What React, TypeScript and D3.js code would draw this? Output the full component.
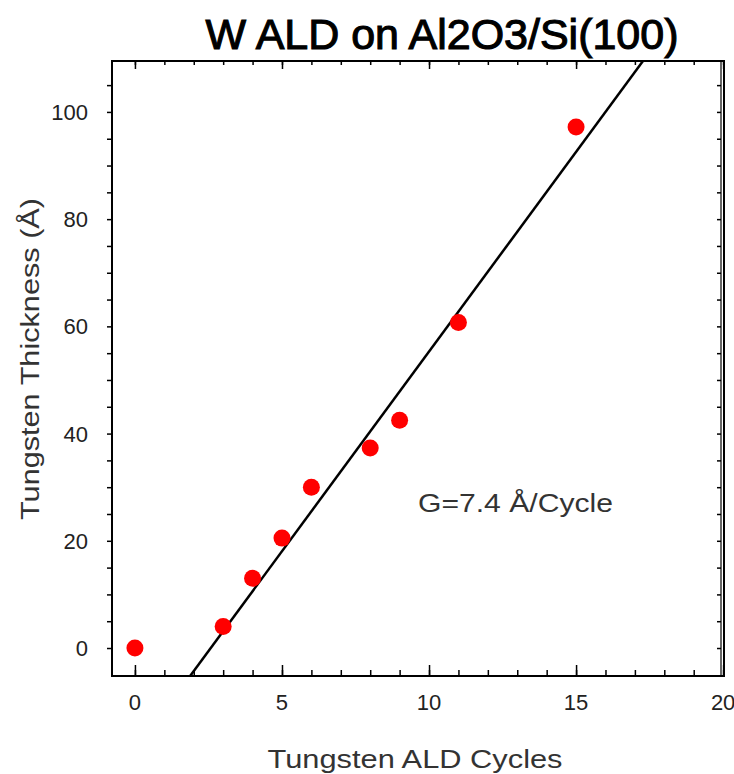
import React, { useEffect, useRef } from "react";
import * as d3 from "d3";

const cycles = [0, 3, 4, 5, 6, 8, 9, 11, 15];
const thickness = [0, 4, 13, 20.5, 30, 37.3, 42.5, 60.7, 97.2];
const xTickLabels = [0, 5, 10, 15, 20];
const yTickLabels = [0, 20, 40, 60, 80, 100];
const fitSlope = 7.45;
const fitIntercept = -19.2;

const W = 734;
const H = 774;

function App() {
  const svgRef = useRef<SVGSVGElement>(null);

  useEffect(() => {
    const svg = d3.select(svgRef.current);
    svg.selectAll("*").remove();

    const left = 112, right = 724, top = 61, bottom = 676;
    const x = d3.scaleLinear().domain([-0.78, 20.03]).range([left, right]);
    const y = d3.scaleLinear().domain([-5.22, 109.5]).range([bottom, top]);
    const font = "'Liberation Sans', Arial, sans-serif";

    // title
    svg.append("text")
      .attr("x", 442).attr("y", 49)
      .attr("text-anchor", "middle")
      .attr("font-family", font).attr("font-size", 42)
      .attr("stroke", "#000").attr("stroke-width", 1.1)
      .attr("textLength", 473).attr("lengthAdjust", "spacingAndGlyphs")
      .text("W ALD on Al2O3/Si(100)");

    // ticks
    const minorX = d3.range(0, 21);
    const minorY = d3.range(0, 110, 5);
    const g = svg.append("g").attr("stroke", "#000");

    const tick = (sel: any) => sel.selectAll("path").remove();
    svg.append("g").attr("transform", `translate(0,${bottom})`)
      .call(d3.axisBottom(x).tickValues(minorX).tickSize(-6).tickFormat(() => "")).call(tick);
    svg.append("g").attr("transform", `translate(0,${bottom})`)
      .call(d3.axisBottom(x).tickValues(xTickLabels).tickSize(-11).tickFormat(() => "")).call(tick);
    svg.append("g").attr("transform", `translate(0,${top})`)
      .call(d3.axisTop(x).tickValues(minorX).tickSize(-4).tickFormat(() => "")).call(tick);
    svg.append("g").attr("transform", `translate(0,${top})`)
      .call(d3.axisTop(x).tickValues(xTickLabels).tickSize(-8).tickFormat(() => "")).call(tick);
    svg.append("g").attr("transform", `translate(${left},0)`)
      .call(d3.axisLeft(y).tickValues(minorY).tickSize(5).tickFormat(() => "")).call(tick);
    svg.append("g").attr("transform", `translate(${right - 3},0)`)
      .call(d3.axisRight(y).tickValues(minorY).tickSize(-4).tickFormat(() => "")).call(tick);
    svg.selectAll(".tick line").attr("stroke", "#000").attr("stroke-width", 1.5);

    // frame
    g.append("rect")
      .attr("x", left).attr("y", top)
      .attr("width", right - left).attr("height", bottom - top)
      .attr("fill", "none").attr("stroke-width", 2);
    g.append("line")
      .attr("x1", right - 3).attr("x2", right - 3)
      .attr("y1", top).attr("y2", bottom).attr("stroke-width", 1.2);

    // tick labels
    svg.append("g").selectAll("text").data(xTickLabels).join("text")
      .attr("x", (d) => x(d)).attr("y", 710)
      .attr("text-anchor", "middle")
      .attr("font-family", font).attr("font-size", 22).attr("fill", "#222")
      .text((d) => d);
    svg.append("g").selectAll("text").data(yTickLabels).join("text")
      .attr("x", 88).attr("y", (d) => y(d)).attr("dy", "0.36em")
      .attr("text-anchor", "end")
      .attr("font-family", font).attr("font-size", 22).attr("fill", "#222")
      .text((d) => d);

    // axis labels
    svg.append("text")
      .attr("x", 415).attr("y", 768)
      .attr("text-anchor", "middle")
      .attr("font-family", font).attr("font-size", 26).attr("fill", "#333")
      .attr("textLength", 295).attr("lengthAdjust", "spacingAndGlyphs")
      .text("Tungsten ALD Cycles");
    svg.append("text")
      .attr("transform", "translate(39,359) rotate(-90)")
      .attr("text-anchor", "middle")
      .attr("font-family", font).attr("font-size", 26).attr("fill", "#333")
      .attr("textLength", 322).attr("lengthAdjust", "spacingAndGlyphs")
      .text("Tungsten Thickness (Å)");

    // fit line, clipped to plot area
    svg.append("clipPath").attr("id", "plotClip")
      .append("rect")
      .attr("x", left).attr("y", top)
      .attr("width", right - left).attr("height", bottom - top);
    const xs = x.domain();
    const line = d3.line<number>().x((d) => x(d)).y((d) => y(fitSlope * d + fitIntercept));
    svg.append("path")
      .datum(xs)
      .attr("d", line)
      .attr("clip-path", "url(#plotClip)")
      .attr("fill", "none").attr("stroke", "#000").attr("stroke-width", 2.5);

    // points
    svg.append("g").selectAll("circle").data(cycles).join("circle")
      .attr("cx", (d) => x(d))
      .attr("cy", (d, i) => y(thickness[i]))
      .attr("r", 8.5)
      .attr("fill", "#ff0000");

    // annotation
    svg.append("text")
      .attr("x", 418).attr("y", 512)
      .attr("font-family", font).attr("font-size", 26).attr("fill", "#333")
      .attr("textLength", 195).attr("lengthAdjust", "spacingAndGlyphs")
      .text("G=7.4 Å/Cycle");
  }, []);

  return (
    <div style={{ position: "absolute", left: 0, top: 0 }}>
      <svg ref={svgRef} width={W} height={H} style={{ display: "block", background: "#fff" }}></svg>
    </div>
  );
}

export default App;
